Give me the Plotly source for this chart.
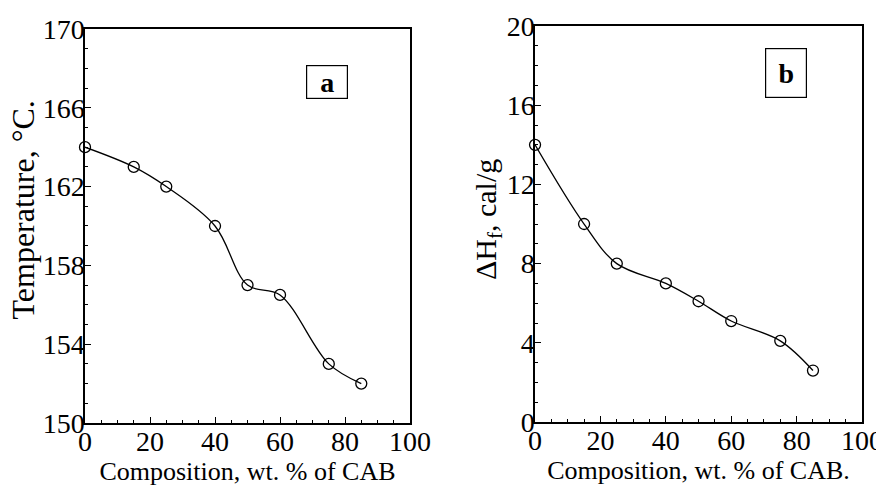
import plotly.graph_objects as go

comp_a = [0, 15, 25, 40, 50, 60, 75, 85]
temp_a = [164, 163, 162, 160, 157, 156.5, 153, 152]
comp_b = [0, 15, 25, 40, 50, 60, 75, 85]
dh_b = [14, 10, 8, 7, 6.1, 5.1, 4.1, 2.6]

xticks = [0, 20, 40, 60, 80, 100]
yticks_a = [150, 154, 158, 162, 166, 170]
yticks_b = [0, 4, 8, 12, 16, 20]

FONT = "Liberation Serif"
fig = go.Figure()

marker = dict(symbol="circle-open", size=11, color="black", line=dict(width=1.3, color="black"))
fig.add_trace(go.Scatter(x=comp_a, y=temp_a, mode="lines+markers", line=dict(shape="spline", color="black", width=1.3),
                         marker=marker, xaxis="x", yaxis="y", showlegend=False, cliponaxis=False))
fig.add_trace(go.Scatter(x=comp_b, y=dh_b, mode="lines+markers", line=dict(shape="spline", color="black", width=1.3),
                         marker=marker, xaxis="x2", yaxis="y2", showlegend=False, cliponaxis=False))

axis_common = dict(showline=True, linecolor="black", linewidth=1.5, mirror=True, ticks="inside",
                   ticklen=6, tickwidth=1, tickcolor="black", showgrid=False, zeroline=False,
                   automargin=False, ticklabelstandoff=-7,
                   tickfont=dict(family=FONT, size=28, color="black"),
                   minor=dict(ticks="inside", ticklen=3, tickcolor="black"))

fig.update_layout(
    width=884, height=488, paper_bgcolor="white", plot_bgcolor="white",
    margin=dict(l=0, r=0, t=0, b=0),
    font=dict(family=FONT, color="black"),
    xaxis=dict(domain=[0.0871, 0.4548], range=[0, 100], tickvals=xticks, anchor="y",
               title=dict(text="Composition, wt. % of CAB", font=dict(family=FONT, size=26), standoff=0),
               **axis_common),
    yaxis=dict(domain=[0.1496, 0.957], range=[150, 170], tickvals=yticks_a, anchor="x",
               **axis_common),
    xaxis2=dict(domain=[0.5962, 0.9661], range=[0, 100], tickvals=xticks, anchor="y2",
                title=dict(text="Composition, wt. % of CAB.", font=dict(family=FONT, size=26), standoff=0),
                **axis_common),
    yaxis2=dict(domain=[0.1516, 0.9631], range=[0, 20], tickvals=yticks_b, anchor="x2",
                **axis_common),
)

# y-axis titles placed as rotated annotations
fig.add_annotation(x=0.0175, y=0.586, xref="paper", yref="paper", text="Temperature, °C.",
                   textangle=-90, showarrow=False, xanchor="center", yanchor="middle",
                   font=dict(family=FONT, size=32, color="black"))
fig.add_annotation(x=0.543, y=0.5656, xref="paper", yref="paper", text="ΔH<sub>f</sub>, cal/g",
                   textangle=-90, showarrow=False, xanchor="center", yanchor="middle",
                   font=dict(family=FONT, size=30, color="black"))

fig.add_annotation(x=74.5, y=167.3, xref="x", yref="y", text="<b>a</b>", showarrow=False,
                   font=dict(family=FONT, size=28, color="black"), bordercolor="black", borderwidth=1.2,
                   borderpad=3, width=34, height=26)
fig.add_annotation(x=76.8, y=17.65, xref="x2", yref="y2", text="<b>b</b>", showarrow=False,
                   font=dict(family=FONT, size=28, color="black"), bordercolor="black", borderwidth=1.2,
                   borderpad=3, width=34, height=42)

fig.write_html("out.html")
